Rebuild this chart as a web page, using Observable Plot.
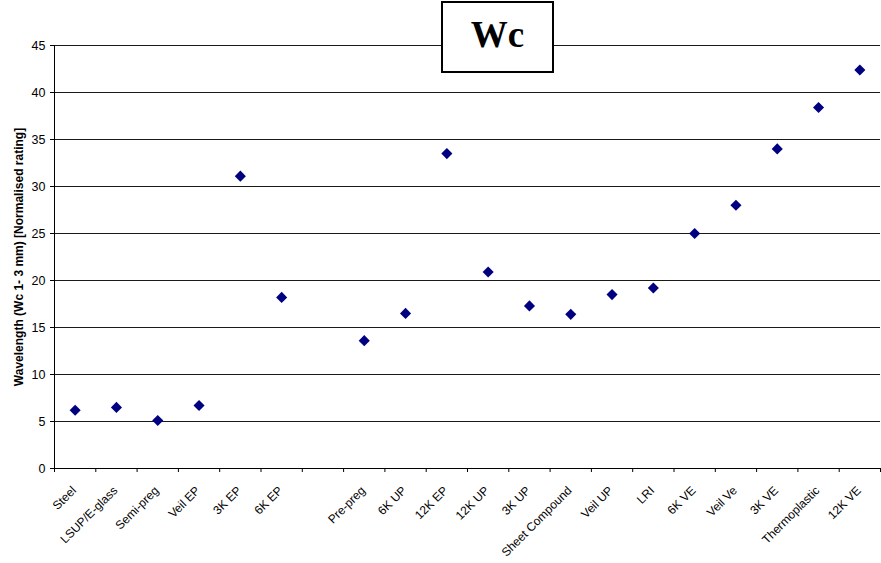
<!DOCTYPE html>
<html>
<head>
<meta charset="utf-8">
<script src="https://cdn.jsdelivr.net/npm/d3@7"></script>
<script src="https://cdn.jsdelivr.net/npm/@observablehq/plot@0.6"></script>
<style>
  html, body { margin: 0; padding: 0; background: #fff; }
  #wrap { position: relative; width: 881px; height: 563px; }
  #title {
    position: absolute; left: 441px; top: 1px; width: 113px; height: 72px;
    box-sizing: border-box; border: 2px solid #000; background: #fff;
    display: flex; align-items: center; justify-content: center;
    font-family: "Liberation Serif", "Times New Roman", serif; font-weight: bold; font-size: 37px;
    padding-bottom: 5px; color: #000;
  }
</style>
</head>
<body>
<div id="wrap"><div id="title">Wc</div></div>
<script>
const categories = ["Steel","LSUP/E-glass","Semi-preg","Veil EP","3K EP","6K EP","","Pre-preg","6K UP","12K EP","12K UP","3K UP","Sheet Compound","Veil UP","LRI","6K VE","Veil Ve","3K VE","Thermoplastic","12K VE"];
const values = [6.2, 6.5, 5.1, 6.7, 31.1, 18.2, null, 13.6, 16.5, 33.5, 20.9, 17.3, 16.4, 18.5, 19.2, 25.0, 28.0, 34.0, 38.4, 42.4];
const yTicks = [0, 5, 10, 15, 20, 25, 30, 35, 40, 45];
const yLabel = "Wavelength (Wc 1- 3 mm) [Normalised rating]";

const points = categories.map((c, i) => ({i, c, v: values[i]})).filter(d => d.v != null);
const labels = categories.map((c, i) => ({i, c})).filter(d => d.c !== "");
const boundaries = d3.range(categories.length + 1);

const chart = Plot.plot({
  width: 881,
  height: 563,
  marginLeft: 54,
  marginRight: 1,
  marginTop: 45,
  marginBottom: 95,
  style: {fontFamily: "'Liberation Sans', Arial, sans-serif", fontSize: "12px", color: "#000", background: "#fff"},
  x: {domain: [0, categories.length]},
  y: {domain: [0, 45]},
  marks: [
    Plot.ruleY(yTicks.filter(t => t > 0), {stroke: "#000", strokeWidth: 1, strokeOpacity: 0.9}),
    Plot.ruleY([0], {stroke: "#000", strokeWidth: 1}),
    Plot.ruleX([0], {stroke: "#000", strokeWidth: 1}),
    Plot.axisY({ticks: yTicks, tickSize: 4, tickPadding: 5, label: null, fontSize: 12.5}),
    Plot.axisX({ticks: boundaries, tickSize: 4, tickFormat: () => "", label: null}),
    Plot.text(labels, {x: d => d.i + 0.5, y: 0, text: "c", rotate: -45, textAnchor: "end", dx: -1, dy: 20, fontSize: 12, fill: "#000"}),
    Plot.text([yLabel], {frameAnchor: "left", text: d => d, rotate: -90, textAnchor: "middle", dx: -35, fontWeight: "bold", fontSize: 12, fill: "#000"}),
    Plot.dot(points, {x: d => d.i + 0.5, y: "v", symbol: "diamond2", r: 5, fill: "#000080", stroke: "none"})
  ]
});
document.getElementById("wrap").insertBefore(chart, document.getElementById("title"));
</script>
</body>
</html>
